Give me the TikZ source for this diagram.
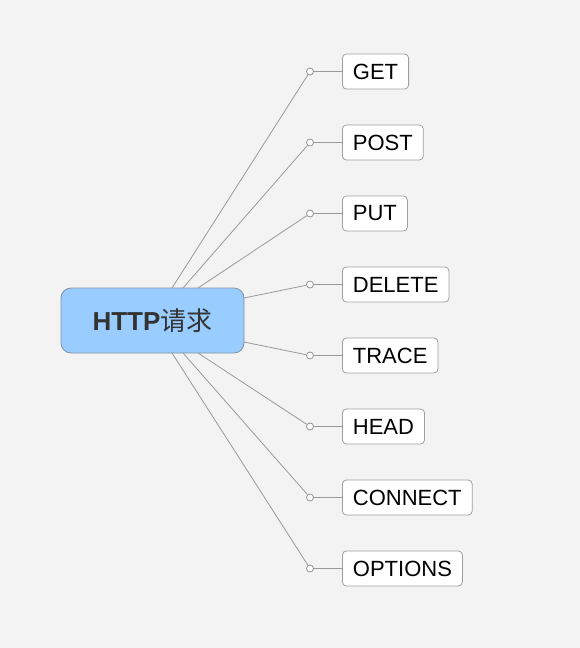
\documentclass[tikz,border=0pt]{standalone}
\usepackage{fontspec}
\setmainfont{Liberation Sans}
\newfontfamily\cjkfont{Noto Sans CJK SC}
\begin{document}
\begin{tikzpicture}[x=1pt,y=-1pt,
  leaf/.style={draw=gray!75, fill=white, rounded corners=4pt, line width=0.8pt,
    anchor=west, minimum height=35pt, inner xsep=10.5pt, inner ysep=0pt,
    font=\fontsize{22}{26}\selectfont, text=black},
  knob/.style={circle, draw=gray!85, fill=white, line width=0.8pt, minimum size=7pt, inner sep=0pt},
  conn/.style={draw=gray!80, line width=0.8pt}]
\useasboundingbox[fill={rgb,255:red,243;green,243;blue,243}] (0,0) rectangle (580,648);
\node[draw={rgb,255:red,130;green,145;blue,160}, fill={rgb,255:red,153;green,204;blue,255},
  rounded corners=10pt, line width=0.8pt, minimum width=183pt, minimum height=65pt,
  text={rgb,255:red,51;green,51;blue,51}] (c) at (152.5,320.5)
  {\fontsize{26}{30}\selectfont\bfseries HTTP{\cjkfont\mdseries 请求}};
\coordinate (s1) at (172,288);
\coordinate (s2) at (183,288);
\coordinate (s3) at (198,288);
\coordinate (s4) at (244,298);
\coordinate (s5) at (244,342);
\coordinate (s6) at (198,353);
\coordinate (s7) at (183,353);
\coordinate (s8) at (172,353);
\foreach \i/\t [evaluate=\i as \yy using 71.5+71*(\i-1)] in {1/GET,2/POST,3/PUT,4/DELETE,5/TRACE,6/HEAD,7/CONNECT,8/OPTIONS}{
  \node[knob] (k\i) at (310,\yy) {};
  \node[leaf] (n\i) at (342,\yy) {\t};
  \draw[conn] (s\i) -- (k\i);
  \draw[conn] (k\i) -- (n\i);
}
\end{tikzpicture}
\end{document}
